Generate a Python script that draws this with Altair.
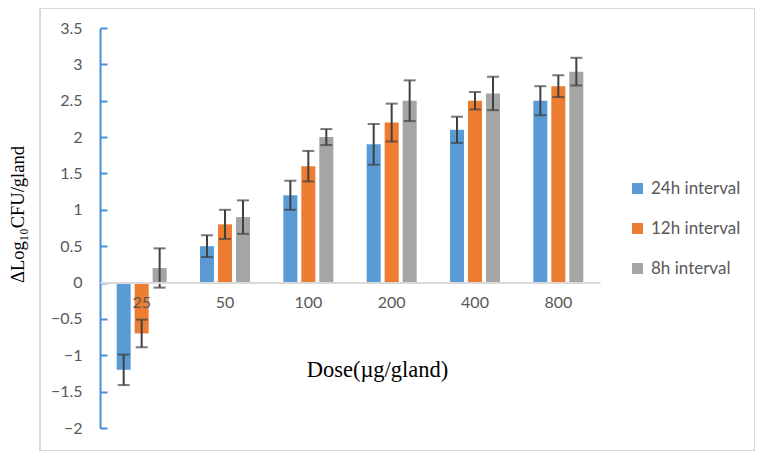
import altair as alt
import pandas as pd

doses = ["25", "50", "100", "200", "400", "800"]
series = ["24h interval", "12h interval", "8h interval"]
colors = ["#5B9BD5", "#ED7D31", "#A5A5A5"]

vals_24 = [-1.2, 0.5, 1.2, 1.9, 2.1, 2.5]
vals_12 = [-0.7, 0.8, 1.6, 2.2, 2.5, 2.7]
vals_8 = [0.2, 0.9, 2.0, 2.5, 2.6, 2.9]

err_24 = [0.21, 0.15, 0.2, 0.28, 0.18, 0.2]
err_12 = [0.19, 0.2, 0.21, 0.26, 0.12, 0.15]
err_8 = [0.27, 0.23, 0.11, 0.28, 0.23, 0.19]

y_ticks = [-2, -1.5, -1, -0.5, 0, 0.5, 1, 1.5, 2, 2.5, 3, 3.5]

rows = []
for s, v, e in zip(series, [vals_24, vals_12, vals_8], [err_24, err_12, err_8]):
    for d, vv, ee in zip(doses, v, e):
        rows.append({"dose": d, "series": s, "value": vv, "err": ee,
                     "lo": vv - ee, "hi": vv + ee})
df = pd.DataFrame(rows)

W, H = 715, 443
LABEL_COLOR = "#595959"
AXIS_BLUE = "#4A8FD8"

xscale = alt.Scale(domain=doses, range=[60, 560], paddingInner=0.4, paddingOuter=0.2)
yscale = alt.Scale(domain=[-2, 3.5], range=[420, 20], nice=False, zero=False)
xoff = alt.XOffset("series:N", sort=series,
                   scale=alt.Scale(domain=series, paddingInner=0.22, paddingOuter=0))

x_axis = alt.Axis(orient="bottom", offset=-168.5, domainColor="#D9D9D9",
                  domainWidth=2, ticks=False, labelAngle=0, zindex=1,
                  labelColor=LABEL_COLOR, labelFontSize=16, labelFont="Lato",
                  labelPadding=12,
                  title="Dose(µg/gland)", titleFont="Liberation Serif",
                  titleFontSize=22.5, titleFontWeight="normal", titleColor="#000000",
                  titleX=337, titleY=87, titleAlign="center",
                  titleBaseline="middle", titleAnchor="middle")


def x_enc():
    return alt.X("dose:N", sort=doses, scale=xscale, axis=x_axis)


bars = alt.Chart(df).mark_bar().encode(
    x=x_enc(),
    xOffset=xoff,
    y=alt.Y("value:Q", scale=yscale,
            axis=alt.Axis(orient="left", offset=-60, domain=False, ticks=False,
                          tickSize=0, values=y_ticks, grid=False, format=".1~f",
                          labelColor=LABEL_COLOR, labelFontSize=16, labelFont="Lato",
                          labelPadding=18,
                          title="ΔLog₁₀CFU/gland", titleFont="Liberation Serif",
                          titleFontSize=18.5, titleFontWeight="normal", titleColor="#000000",
                          titleX=-83, titleY=206, titleAngle=270, titleAlign="center",
                          titleBaseline="middle")),
    y2=alt.datum(0),
    color=alt.Color("series:N", sort=series,
                    scale=alt.Scale(domain=series, range=colors),
                    legend=alt.Legend(title=None, orient="none", legendX=589, legendY=172,
                                      symbolType="square", symbolSize=121,
                                      symbolStrokeWidth=0, labelFontSize=17,
                                      labelFont="Lato", labelColor=LABEL_COLOR,
                                      rowPadding=22, labelOffset=5, padding=0)),
)

rules = alt.Chart(df).mark_rule(color="#404040", strokeWidth=2).encode(
    x=x_enc(),
    xOffset=xoff,
    y=alt.Y("lo:Q", scale=yscale,
            axis=alt.Axis(orient="right", offset=-(W - 60), domain=True,
                          domainColor=AXIS_BLUE, domainWidth=2, ticks=True,
                          tickColor=AXIS_BLUE, tickWidth=2, tickSize=7,
                          values=y_ticks, labels=False, title=None, grid=False)),
    y2="hi:Q",
)

caps_lo = alt.Chart(df).mark_tick(color="#404040", thickness=2, size=12).encode(
    x=x_enc(),
    xOffset=xoff,
    y=alt.Y("lo:Q", scale=yscale, axis=None),
)
caps_hi = alt.Chart(df).mark_tick(color="#404040", thickness=2, size=12).encode(
    x=x_enc(),
    xOffset=xoff,
    y=alt.Y("hi:Q", scale=yscale, axis=None),
)

chart = alt.layer(bars, rules, caps_lo, caps_hi).resolve_axis(
    y="independent"
).properties(
    width=W, height=H,
    autosize=alt.AutoSizeParams(type="none"),
    padding={"left": 32, "top": 0, "right": 0, "bottom": 0},
    background="white",
).configure_view(
    stroke="#D9D9D9", strokeWidth=2
)

chart.save("out.html", embed_options={"renderer": "svg", "actions": False})
